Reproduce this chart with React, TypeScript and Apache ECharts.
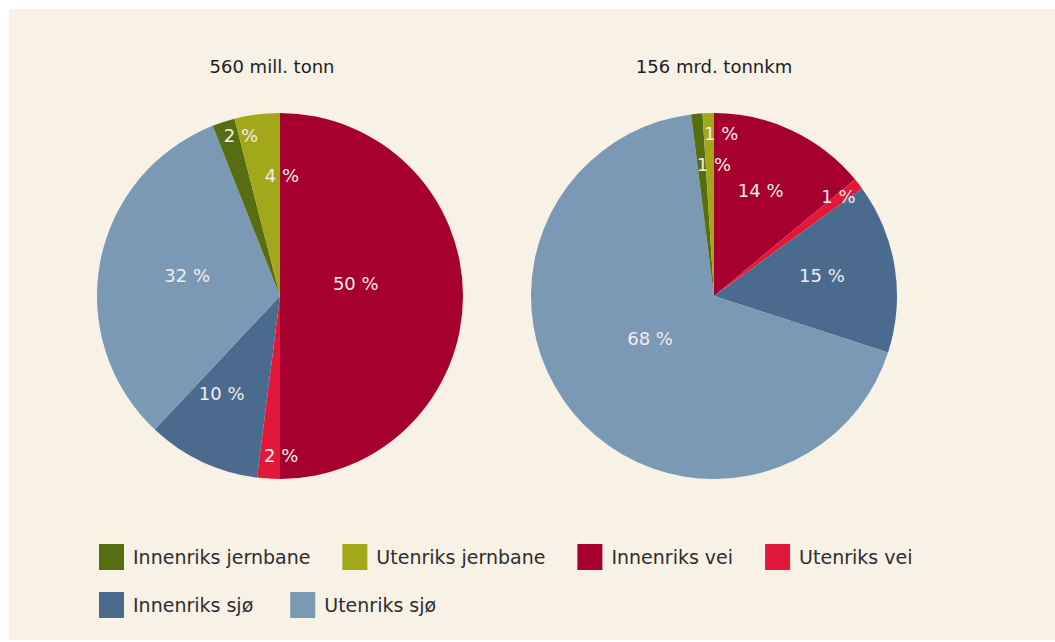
import React, { useEffect, useRef } from "react";
import * as echarts from "echarts";

const categories = [
  "Innenriks jernbane",
  "Utenriks jernbane",
  "Innenriks vei",
  "Utenriks vei",
  "Innenriks sjø",
  "Utenriks sjø",
];
const categoryColors = ["#566d12", "#a2a81a", "#a6002f", "#e2183a", "#4b6b8e", "#7a99b5"];

// slice order clockwise from 12 o'clock
const sliceOrder = [
  "Innenriks vei",
  "Utenriks vei",
  "Innenriks sjø",
  "Utenriks sjø",
  "Innenriks jernbane",
  "Utenriks jernbane",
];
const tonnShares = [50, 2, 10, 32, 2, 4];
const tonnkmShares = [14, 1, 15, 68, 1, 1];

const titles = ["560 mill. tonn", "156 mrd. tonnkm"];

// label placement styling: distance from centre (share of radius) and angular nudge (deg)
const tonnLabelRadius = [0.42, 0.87, 0.62, 0.52, 0.9, 0.66];
const tonnLabelNudge = [9.7, 4, -5.7, -1.9, -4.3, -8.1];
const tonnkmLabelRadius = [0.63, 0.87, 0.6, 0.42, 0.72, 0.89];
const tonnkmLabelNudge = [1.3, 0.8, 1.6, -5.9, -5.4, -4.3];

const FONT = "DejaVu Sans";
const R = 183;
const CY = 296;
const CENTERS_X = [280, 714];

function makeLayout(values: number[], fracs: number[], nudges: number[], cx: number) {
  const total = values.reduce((a, b) => a + b, 0);
  return (p: any) => {
    const i = p.dataIndex;
    let cum = 0;
    for (let k = 0; k < i; k++) cum += values[k];
    const midDeg = 90 - (360 * (cum + values[i] / 2)) / total + nudges[i];
    const mid = (midDeg * Math.PI) / 180;
    const d = R * fracs[i];
    return {
      x: cx + d * Math.cos(mid),
      y: CY - d * Math.sin(mid),
      align: "center",
      verticalAlign: "middle",
    };
  };
}

function makeSeries(values: number[], fracs: number[], nudges: number[], cx: number) {
  return {
    type: "pie",
    center: [cx, CY],
    radius: [0, R],
    startAngle: 90,
    clockwise: true,
    avoidLabelOverlap: false,
    silent: true,
    label: {
      show: true,
      position: "inside",
      formatter: (p: any) => `${p.value} %`,
      color: "#f4ecec",
      fontSize: 18,
      fontFamily: FONT,
    },
    labelLine: { show: false },
    labelLayout: makeLayout(values, fracs, nudges, cx),
    itemStyle: { borderWidth: 0 },
    data: sliceOrder.map((name, i) => ({
      name,
      value: values[i],
      itemStyle: { color: categoryColors[categories.indexOf(name)] },
    })),
  };
}

export default function App() {
  const ref = useRef<HTMLDivElement>(null);
  useEffect(() => {
    if (!ref.current) return;
    const chart = echarts.init(ref.current, undefined, { renderer: "svg" });
    const legendBase = {
      icon: "rect",
      itemWidth: 25,
      itemHeight: 26,
      itemGap: 32,
      padding: 0,
      orient: "horizontal",
      textStyle: {
        fontSize: 19,
        fontFamily: FONT,
        color: "#2e2e2e",
        padding: [0, 0, 0, 4],
      },
      selectedMode: false,
    };
    chart.setOption({
      animation: false,
      backgroundColor: "#ffffff",
      color: categoryColors,
      graphic: [
        {
          type: "rect",
          silent: true,
          z: -10,
          shape: { x: 9, y: 9, width: 1046, height: 631 },
          style: { fill: "#f7f1e6" },
        },
        {
          type: "text",
          x: 272,
          y: 66,
          style: {
            text: titles[0],
            fontSize: 18,
            fontFamily: FONT,
            fill: "#1e1e1e",
            textAlign: "center",
            textVerticalAlign: "middle",
          },
        },
        {
          type: "text",
          x: 714,
          y: 66,
          style: {
            text: titles[1],
            fontSize: 18,
            fontFamily: FONT,
            fill: "#1e1e1e",
            textAlign: "center",
            textVerticalAlign: "middle",
          },
        },
      ],
      legend: [
        { ...legendBase, left: 99, top: 544, data: categories.slice(0, 4) },
        { ...legendBase, left: 99, top: 592, itemGap: 37, data: categories.slice(4) },
      ],
      series: [
        makeSeries(tonnShares, tonnLabelRadius, tonnLabelNudge, CENTERS_X[0]),
        makeSeries(tonnkmShares, tonnkmLabelRadius, tonnkmLabelNudge, CENTERS_X[1]),
      ],
    });
    return () => chart.dispose();
  }, []);
  return (
    <div
      ref={ref}
      style={{ position: "absolute", left: 0, top: 0, width: 1055, height: 642 }}
    />
  );
}
